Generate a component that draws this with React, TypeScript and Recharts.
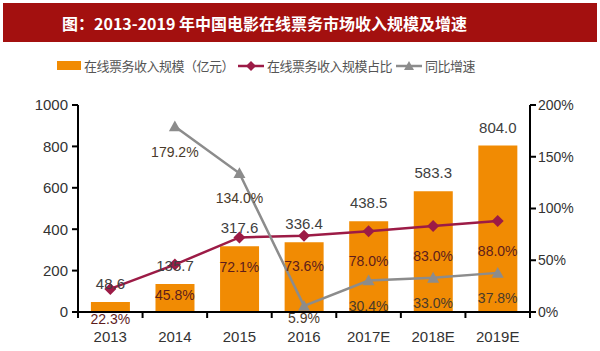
import React from "react";
import {
  Bar,
  ComposedChart,
  LabelList,
  Line,
  XAxis,
  YAxis,
} from "recharts";

const years = ["2013", "2014", "2015", "2016", "2017E", "2018E", "2019E"];
const revenue = [48.6, 135.7, 317.6, 336.4, 438.5, 583.3, 804.0];
const share = [22.3, 45.8, 72.1, 73.6, 78.0, 83.0, 88.0];
const growth: (number | null)[] = [null, 179.2, 134.0, 5.9, 30.4, 33.0, 37.8];
const leftTicks = [0, 200, 400, 600, 800, 1000];
const rightTicks = [0, 50, 100, 150, 200];

const title = "图：2013-2019 年中国电影在线票务市场收入规模及增速";
const legendNames = ["在线票务收入规模（亿元）", "在线票务收入规模占比", "同比增速"];

const data = years.map((year, i) => ({
  year,
  revenue: revenue[i],
  share: share[i],
  growth: growth[i],
}));

const ORANGE = "#f18b03";
const CRIMSON = "#9c1b46";
const GREY = "#8c8c8c";
const NUM_FONT = "'Liberation Sans Narrow', 'Liberation Sans', Arial, sans-serif";
const CJK_FONT = "'Noto Sans CJK SC', 'Noto Sans', sans-serif";

const W = 600;
const H = 351;
const PLOT_LEFT = 78;
const PLOT_RIGHT = 530;
const BAND = (PLOT_RIGHT - PLOT_LEFT) / years.length;
const AXIS_Y = 312;

function XTick(props: any) {
  const { x, y, payload, index } = props;
  const half = BAND / 2;
  return (
    <g>
      <line x1={x - half} x2={x - half} y1={y - 8} y2={y - 2} stroke="#000" strokeWidth={2} />
      {index === years.length - 1 && (
        <line x1={x + half} x2={x + half} y1={y - 8} y2={y - 2} stroke="#000" strokeWidth={2} />
      )}
      <text x={x} y={y + 22} textAnchor="middle" fontSize={15} fill="#333" fontFamily={NUM_FONT}>
        {payload.value}
      </text>
    </g>
  );
}

function Diamond(props: any) {
  const { cx, cy } = props;
  if (cx == null || cy == null) return null;
  const r = 6;
  return (
    <path
      d={`M${cx},${cy - r} L${cx + r},${cy} L${cx},${cy + r} L${cx - r},${cy} Z`}
      fill={CRIMSON}
    />
  );
}

function Triangle(props: any) {
  const { cx, cy, payload } = props;
  if (cx == null || cy == null || payload?.growth == null) return null;
  const r = 6;
  return (
    <path d={`M${cx},${cy - r} L${cx + r},${cy + r * 0.8} L${cx - r},${cy + r * 0.8} Z`} fill={GREY} />
  );
}

function belowLabel(dy: number, color: string, maxY: number) {
  return (props: any) => {
    const { x, y, value } = props;
    if (value == null || x == null || y == null) return null;
    return (
      <text
        x={x}
        y={Math.min(y + dy, maxY)}
        textAnchor="middle"
        dominantBaseline="central"
        fontSize={14}
        fill={color}
        fontFamily={NUM_FONT}
      >
        {`${Number(value).toFixed(1)}%`}
      </text>
    );
  };
}

function Legend() {
  const item = (marker: React.ReactNode, label: string, gap: number) => (
    <div style={{ display: "flex", alignItems: "center", marginRight: gap }}>
      {marker}
      <span style={{ marginLeft: 3 }}>{label}</span>
    </div>
  );
  return (
    <div
      style={{
        position: "absolute",
        left: 57,
        top: 56,
        display: "flex",
        alignItems: "center",
        fontFamily: CJK_FONT,
        fontSize: 13,
        letterSpacing: -0.5,
        color: "#555",
        whiteSpace: "nowrap",
      }}
    >
      {item(<div style={{ width: 24, height: 9, background: ORANGE }} />, legendNames[0], 4)}
      {item(
        <svg width={26} height={12}>
          <line x1={0} x2={26} y1={6} y2={6} stroke={CRIMSON} strokeWidth={2.5} />
          <path d="M13,1 L18,6 L13,11 L8,6 Z" fill={CRIMSON} />
        </svg>,
        legendNames[1],
        4
      )}
      {item(
        <svg width={26} height={12}>
          <line x1={0} x2={26} y1={6} y2={6} stroke={GREY} strokeWidth={2.5} />
          <path d="M13,1 L18,10 L8,10 Z" fill={GREY} />
        </svg>,
        legendNames[2],
        0
      )}
    </div>
  );
}

export default function App() {
  return (
    <div style={{ position: "absolute", left: 0, top: 0, width: W, height: H, background: "#fff" }}>
      <div
        style={{
          position: "absolute",
          left: 3,
          top: 3,
          width: 594,
          height: 39,
          background: "#a3100f",
          color: "#fff",
          fontFamily: CJK_FONT,
          fontWeight: 700,
          fontSize: 16,
          display: "flex",
          alignItems: "center",
          boxSizing: "border-box",
          paddingLeft: 59,
        }}
      >
        {title}
      </div>
      <Legend />
      <div style={{ position: "absolute", left: 0, top: 0 }}>
        <ComposedChart
          width={W}
          height={H}
          data={data}
          margin={{ top: 105, right: 0, bottom: 9, left: 0 }}
          barCategoryGap="20%"
        >
          <XAxis
            dataKey="year"
            axisLine={{ stroke: "#000", strokeWidth: 2 }}
            tickLine={false}
            tick={<XTick />}
            height={30}
            interval={0}
          />
          <YAxis
            yAxisId="left"
            domain={[0, 1000]}
            ticks={leftTicks}
            width={PLOT_LEFT}
            axisLine={{ stroke: "#000", strokeWidth: 2 }}
            tickLine={{ stroke: "#000", strokeWidth: 2 }}
            tickSize={6}
            tickMargin={4}
            tick={{ fontSize: 15, fill: "#333", fontFamily: NUM_FONT }}
          />
          <YAxis
            yAxisId="right"
            orientation="right"
            domain={[0, 200]}
            ticks={rightTicks}
            width={W - PLOT_RIGHT}
            axisLine={{ stroke: "#000", strokeWidth: 2 }}
            tickLine={{ stroke: "#000", strokeWidth: 2 }}
            tickSize={6}
            tickMargin={2}
            tickFormatter={(v) => `${v}%`}
            tick={{ fontSize: 14, fill: "#333", fontFamily: NUM_FONT }}
          />
          <Bar yAxisId="left" dataKey="revenue" fill={ORANGE} isAnimationActive={false}>
            <LabelList
              dataKey="revenue"
              position="top"
              offset={13}
              formatter={(v: any) => Number(v).toFixed(1)}
              style={{ fontSize: 15, fill: "#404040", fontFamily: NUM_FONT }}
            />
          </Bar>
          <Line
            yAxisId="right"
            dataKey="share"
            stroke={CRIMSON}
            strokeWidth={2.5}
            dot={<Diamond />}
            activeDot={false}
            isAnimationActive={false}
          >
            <LabelList dataKey="share" content={belowLabel(30, "#5e1c1c", AXIS_Y + 8)} />
          </Line>
          <Line
            yAxisId="right"
            dataKey="growth"
            stroke={GREY}
            strokeWidth={2.5}
            dot={<Triangle />}
            activeDot={false}
            connectNulls={false}
            isAnimationActive={false}
          >
            <LabelList dataKey="growth" content={belowLabel(25, "#4a3a2a", AXIS_Y + 6)} />
          </Line>
        </ComposedChart>
      </div>
    </div>
  );
}
